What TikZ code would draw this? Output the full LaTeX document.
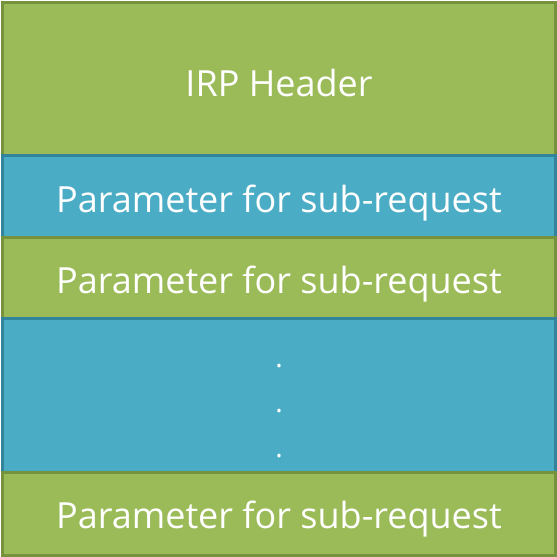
\documentclass[tikz,border=0pt]{standalone}
\usepackage{fontspec}
\setmainfont{Open Sans}
\definecolor{gfill}{HTML}{9BBB59}
\definecolor{gline}{HTML}{76923C}
\definecolor{bfill}{HTML}{4BACC6}
\definecolor{bline}{HTML}{31849B}
\begin{document}
\begin{tikzpicture}[x=1pt,y=-1pt,
  greenbox/.style={fill=gfill,draw=gline,line width=3pt},
  bluebox/.style={fill=bfill,draw=bline,line width=3pt},
  lbl/.style={text=white,font=\fontsize{36}{44}\selectfont}]
\useasboundingbox (0,0) rectangle (557,557);
\draw[greenbox] (2,2) rectangle (555,155);
\draw[bluebox] (2,155) rectangle (555,237);
\draw[greenbox] (2,237) rectangle (555,318);
\draw[bluebox] (2,318) rectangle (555,472);
\draw[greenbox] (2,472) rectangle (555,555);
\node[lbl] (h) at (279,83) {IRP Header};
\node[lbl] (p1) at (279,203) {Parameter for sub-request};
\node[lbl] (p2) at (279,284) {Parameter for sub-request};
\node[lbl] (p3) at (279,519) {Parameter for sub-request};
\node[lbl,align=center,font=\fontsize{28}{45}\selectfont] (d) at (279,411) {.\\.\\.};
\end{tikzpicture}
\end{document}
